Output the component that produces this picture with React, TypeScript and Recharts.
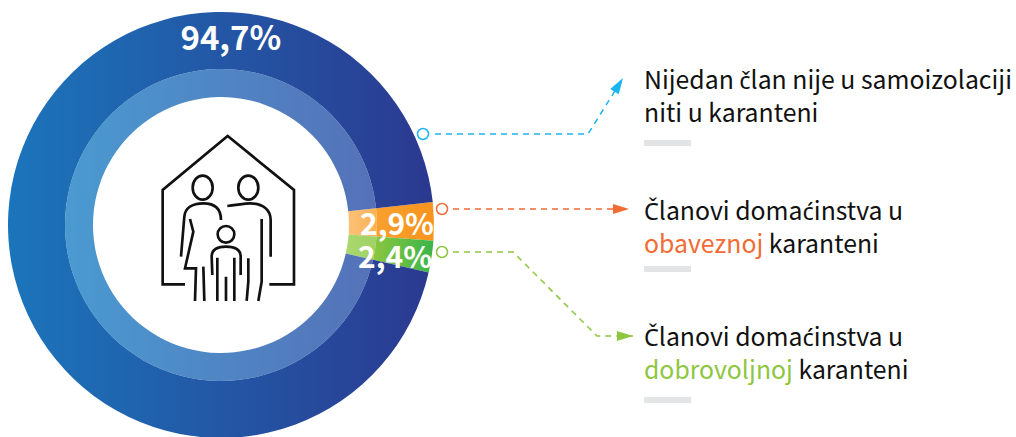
import { Cell, Pie, PieChart } from 'recharts';

const categories = ['obavezna', 'dobrovoljna', 'nijedan'];
const shares = [2.9, 2.4, 94.7];
const shareLabels = ['2,9%', '2,4%', '94,7%'];
const outerFills = ['url(#orangeOuter)', 'url(#greenOuter)', 'url(#blueOuter)'];
const innerFills = ['url(#orangeInner)', 'url(#greenInner)', 'url(#blueInner)'];

const data = categories.map((name, i) => ({ name, value: shares[i] }));

const textFont = '"Noto Sans CJK SC", "Noto Sans", sans-serif';
const RAD = Math.PI / 180;

function Gradient({ id, from, to }: { id: string; from: string; to: string }) {
  return (
    <linearGradient id={id} x1="0" y1="0" x2="1" y2="0">
      <stop offset="0%" stopColor={from} />
      <stop offset="100%" stopColor={to} />
    </linearGradient>
  );
}

function renderShare(props: any) {
  const { cx, cy, midAngle, index } = props;
  // the big slice carries its number near the top of the ring
  const angle = index === 2 ? 87 : midAngle;
  const radius = index === 2 ? 189 : 176;
  const x = cx + radius * Math.cos(angle * RAD);
  const y = cy - radius * Math.sin(angle * RAD) + (index === 1 ? 4 : 0);
  return (
    <text x={x} y={y} textAnchor="middle" dominantBaseline="central" fill="#fff" fontFamily={textFont} fontWeight={700} fontSize={index === 2 ? 33 : 30}>
      {shareLabels[index]}
    </text>
  );
}

function Leader({ points, dot, color }: { points: string; dot: [number, number]; color: string }) {
  const pts = points.split(' ').map((p) => p.split(',').map(Number));
  const [ax, ay] = pts[pts.length - 2];
  const [bx, by] = pts[pts.length - 1];
  const a = (Math.atan2(by - ay, bx - ax) * 180) / Math.PI;
  return (
    <g>
      <circle cx={dot[0]} cy={dot[1]} r={5.5} fill="#fff" stroke={color} strokeWidth={1.5} />
      <polyline points={points} fill="none" stroke={color} strokeWidth={1.5} strokeDasharray="6 5" />
      <polygon points="0,0 -16,-5 -16,5" fill={color} transform={`translate(${bx} ${by}) rotate(${a})`} />
    </g>
  );
}

function FamilyIcon() {
  return (
    <g transform="translate(150 125) scale(0.3333)" fill="none" stroke="#111" strokeWidth={8}>
      <path d="M105 478 H38 V195 L233 33 L432 195 V478 H358" />
      <ellipse cx={158} cy={188} rx={30} ry={36} />
      <ellipse cx={295} cy={188} rx={30} ry={36} />
      <path d="M213 285 C213 252 195 235 160 235 C125 235 105 250 103 275 L93 395" />
      <path d="M120 282 L130 320 L105 430 H138 L135 528" />
      <path d="M160 425 L163 528" />
      <path d="M232 243 C260 240 285 235 300 235 C340 235 362 255 362 285 V395" />
      <path d="M335 282 V470 L325 528" />
      <circle cx={228} cy={328} r={25} />
      <path d="M187 450 L185 395 C185 372 205 365 228 365 C255 365 272 372 272 395 V450" />
      <path d="M202 398 V528 M253 398 V528 M228 455 V528" />
      <path d="M295 400 V470 L290 528" />
    </g>
  );
}

// the CJK face misplaces the accents on these letters, so they come from Noto Sans
function accentSafe(t: string) {
  return t.split(/([čćČ])/).map((s, k) =>
    /[čćČ]/.test(s) ? (
      <tspan key={k} fontFamily="Noto Sans" fontSize={23.5}>
        {s}
      </tspan>
    ) : (
      s
    ),
  );
}

function Caption({ x, y, lines }: { x: number; y: number; lines: Array<Array<[string, string]>> }) {
  return (
    <g fontFamily={textFont} fontSize={24.8}>
      {lines.map((parts, i) => (
        <text key={i} x={x} y={y + i * 33}>
          {parts.map(([t, c], j) => (
            <tspan key={j} fill={c}>
              {accentSafe(t)}
            </tspan>
          ))}
        </text>
      ))}
    </g>
  );
}

export default function App() {
  return (
    <div style={{ position: 'absolute', left: 0, top: 0, width: 1016, height: 437 }}>
      <PieChart width={1016} height={437} margin={{ top: 0, right: 0, bottom: 0, left: 0 }}>
        <defs>
          <Gradient id="blueOuter" from="#1b75bb" to="#2b3990" />
          <Gradient id="blueInner" from="#4a9ad0" to="#5571b8" />
          <Gradient id="orangeOuter" from="#f9a02f" to="#f7941d" />
          <Gradient id="orangeInner" from="#fcc176" to="#fbb257" />
          <Gradient id="greenOuter" from="#8dc63f" to="#39b54a" />
          <Gradient id="greenInner" from="#a9d86e" to="#a0d264" />
        </defs>
        <Pie
          data={data}
          dataKey="value"
          cx={221}
          cy={225}
          innerRadius={128}
          outerRadius={156}
          startAngle={6.2}
          endAngle={-353.8}
          stroke="none"
          isAnimationActive={false}
        >
          {data.map((d, i) => (
            <Cell key={d.name} fill={innerFills[i]} />
          ))}
        </Pie>
        <Pie
          data={data}
          dataKey="value"
          cx={221}
          cy={225}
          innerRadius={156}
          outerRadius={213}
          startAngle={6.2}
          endAngle={-353.8}
          stroke="none"
          label={renderShare}
          labelLine={false}
          isAnimationActive={false}
        >
          {data.map((d, i) => (
            <Cell key={d.name} fill={outerFills[i]} />
          ))}
        </Pie>
        <FamilyIcon />
        <Leader dot={[423, 134]} points="435,134 588,134 623,78" color="#1cb5f0" />
        <Leader dot={[442, 209]} points="453,209 629,209" color="#f26b35" />
        <Leader dot={[442, 252]} points="453,252 513,252 597,336 633,336" color="#8dc63f" />
        <Caption x={644} y={89} lines={[[['Nijedan član nije u samoizolaciji', '#111']], [['niti u karanteni', '#111']]]} />
        <Caption x={644} y={220} lines={[[['Članovi domaćinstva u', '#111']], [['obaveznoj', '#f26b35'], [' karanteni', '#111']]]} />
        <Caption x={644} y={346} lines={[[['Članovi domaćinstva u', '#111']], [['dobrovoljnoj', '#8dc63f'], [' karanteni', '#111']]]} />
        <rect x={644} y={140} width={47} height={6} fill="#e3e4e6" />
        <rect x={644} y={266} width={47} height={6} fill="#e3e4e6" />
        <rect x={644} y={397} width={47} height={6} fill="#e3e4e6" />
      </PieChart>
    </div>
  );
}
